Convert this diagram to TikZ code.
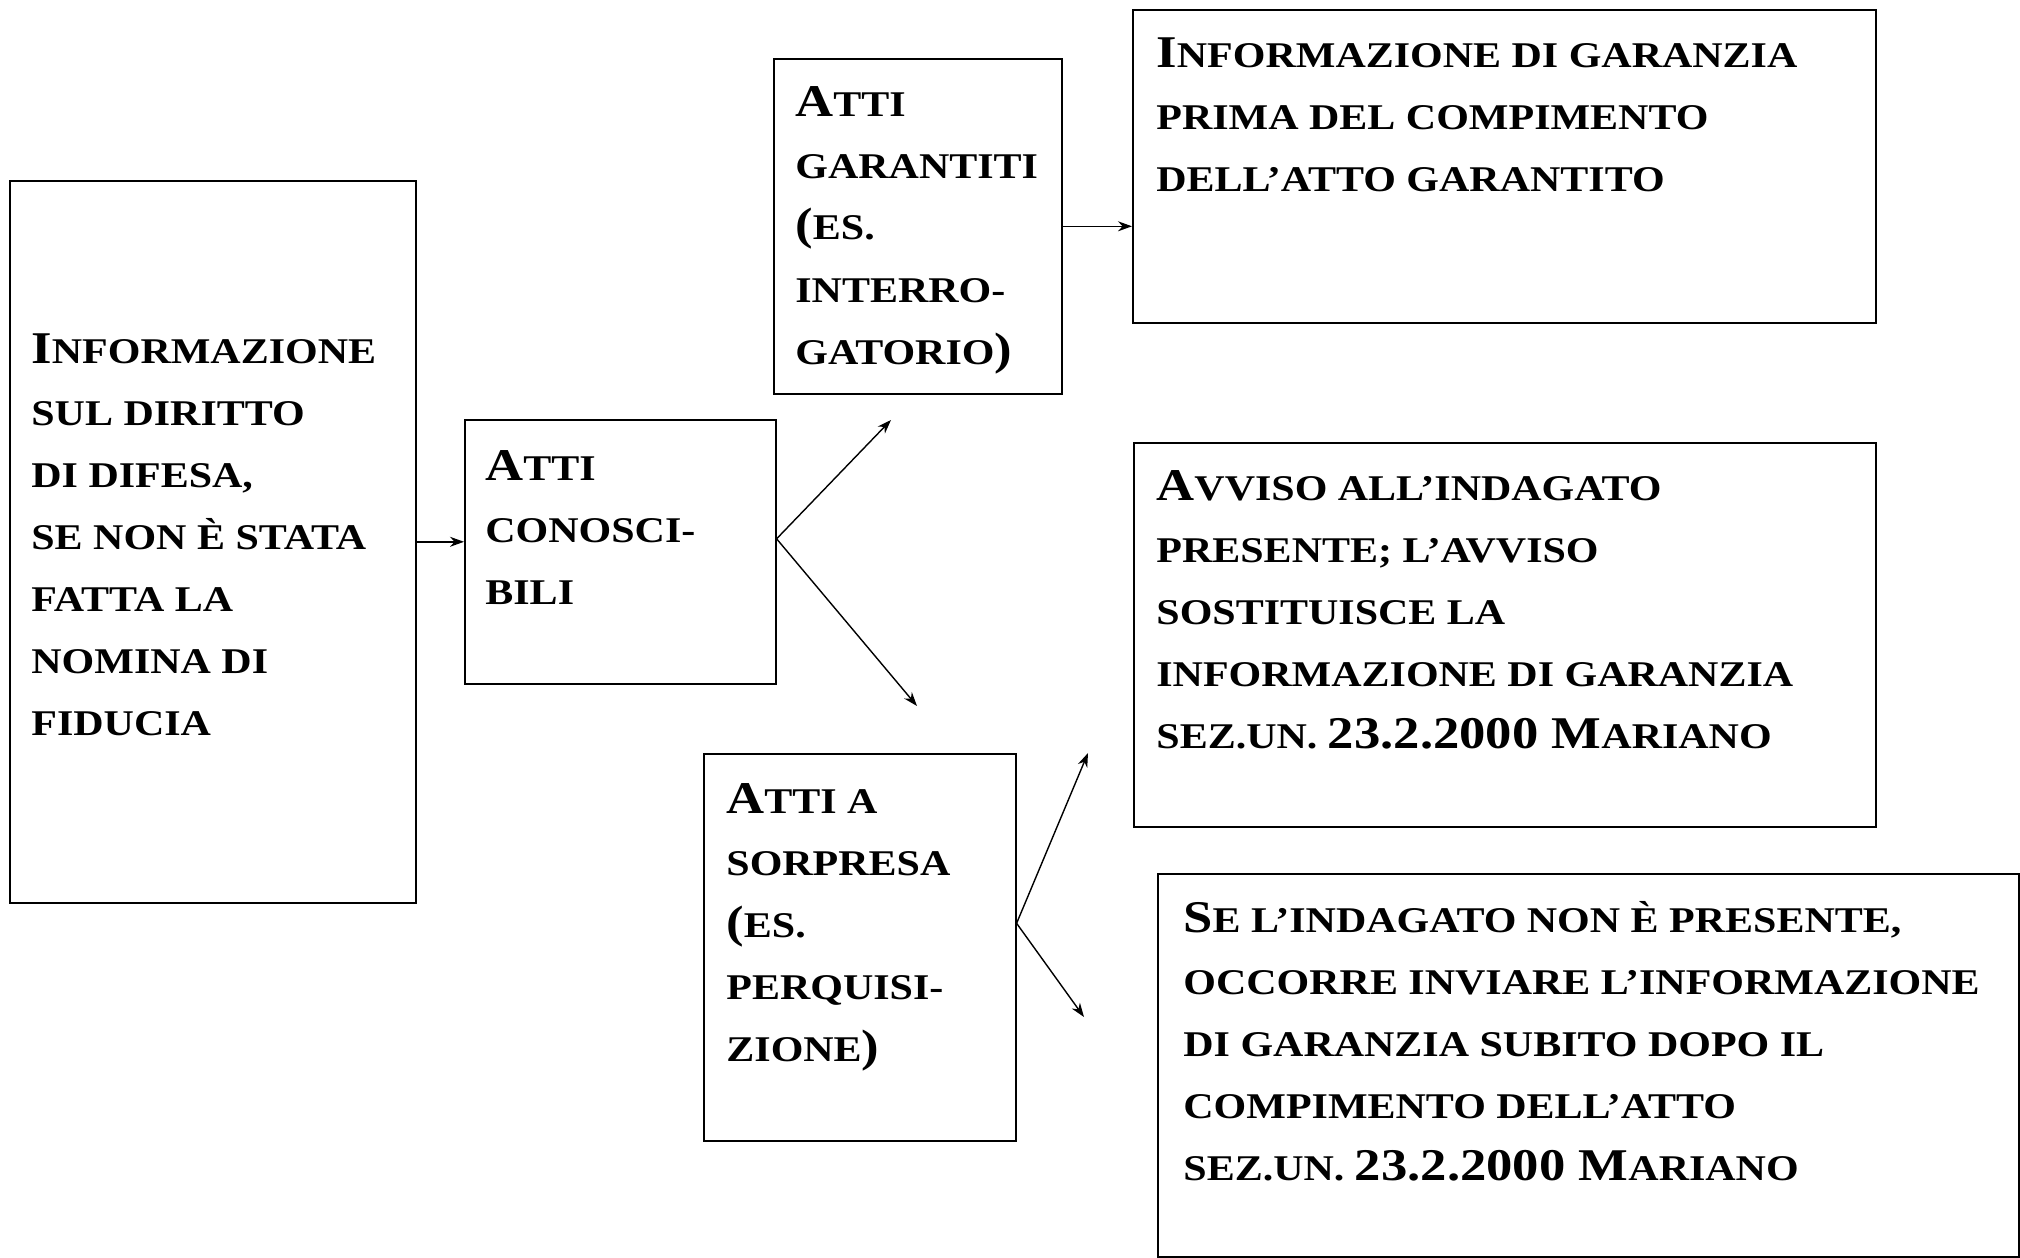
\documentclass[tikz,border=0pt]{standalone}
\usepackage{fontspec}
\newfontfamily\tnr{Liberation Serif}[FakeStretch=1.16]
\usetikzlibrary{arrows.meta}
\newcommand\BL[1]{{\fontsize{22.7pt}{31pt}\selectfont #1}}
\newcommand\Lines[1]{\vtop{\baselineskip=31pt\lineskiplimit=-100pt\halign{##\hfil\cr#1\crcr}}}
\tikzset{
  box/.style={draw=black, line width=0.8pt, inner sep=0pt, anchor=north west},
  txt/.style={inner sep=0pt, anchor=base west, font=\tnr\bfseries\fontsize{18.1pt}{31pt}\selectfont},
  arr/.style={draw=black, line width=0.7pt, -{Stealth[length=7pt,width=5pt]}}
}
\begin{document}
\begin{tikzpicture}[x=0.5pt, y=-0.5pt]
\useasboundingbox (0,0) rectangle (2020,1258);
% boxes
\node[box, minimum width=203pt, minimum height=361pt] (A) at (9,180) {};
\node[box, minimum width=155.5pt, minimum height=132pt] (B) at (464,419) {};
\node[box, minimum width=144pt, minimum height=167.5pt] (C) at (773,58) {};
\node[box, minimum width=371.5pt, minimum height=156.5pt] (D) at (1132,9) {};
\node[box, minimum width=371pt, minimum height=192pt] (E) at (1133,442) {};
\node[box, minimum width=156pt, minimum height=193.5pt] (F) at (703,753) {};
\node[box, minimum width=430.5pt, minimum height=191.5pt] (G) at (1157,873) {};
% texts
\node[txt] (tA) at (31,363) {\Lines{\BL{I}NFORMAZIONE\cr SUL DIRITTO\cr DI DIFESA,\cr SE NON È STATA\cr FATTA LA\cr NOMINA DI\cr FIDUCIA}};
\node[txt] (tB) at (485,480) {\Lines{\BL{A}TTI\cr CONOSCI-\cr BILI}};
\node[txt] (tC) at (795,116) {\Lines{\BL{A}TTI\cr GARANTITI\cr \BL{(}ES.\cr INTERRO-\cr GATORIO\BL{)}}};
\node[txt] (tD) at (1156,68) {\Lines{\BL{I}NFORMAZIONE DI GARANZIA\cr PRIMA DEL COMPIMENTO\cr DELL’ATTO GARANTITO}};
\node[txt] (tE) at (1156,500) {\Lines{\BL{A}VVISO ALL’INDAGATO\cr PRESENTE; L’AVVISO\cr SOSTITUISCE LA\cr INFORMAZIONE DI GARANZIA\cr SEZ.UN. \BL{23.2.2000 M}ARIANO}};
\node[txt] (tF) at (726,813) {\Lines{\BL{A}TTI A\cr SORPRESA\cr \BL{(}ES.\cr PERQUISI-\cr ZIONE\BL{)}}};
\node[txt] (tG) at (1183,932) {\Lines{\BL{S}E L’INDAGATO NON È PRESENTE,\cr OCCORRE INVIARE L’INFORMAZIONE\cr DI GARANZIA SUBITO DOPO IL\cr COMPIMENTO DELL’ATTO\cr SEZ.UN. \BL{23.2.2000 M}ARIANO}};
% junctions and free ends
\coordinate (jB) at ([yshift=6.5pt]B.east);
\coordinate (jF) at ([yshift=12pt]F.east);
\coordinate (eB1) at (891,420);
\coordinate (eB2) at (917,706);
\coordinate (eF1) at (1088,753);
\coordinate (eF2) at (1084,1017);
% connectors
\draw[arr] (A.east) -- (A.east -| B.west);
\draw[arr] (C.east) -- (C.east -| D.west);
\draw[arr] (jB) -- (eB1);
\draw[arr] (jB) -- (eB2);
\draw[arr] (jF) -- (eF1);
\draw[arr] (jF) -- (eF2);
\end{tikzpicture}
\end{document}
